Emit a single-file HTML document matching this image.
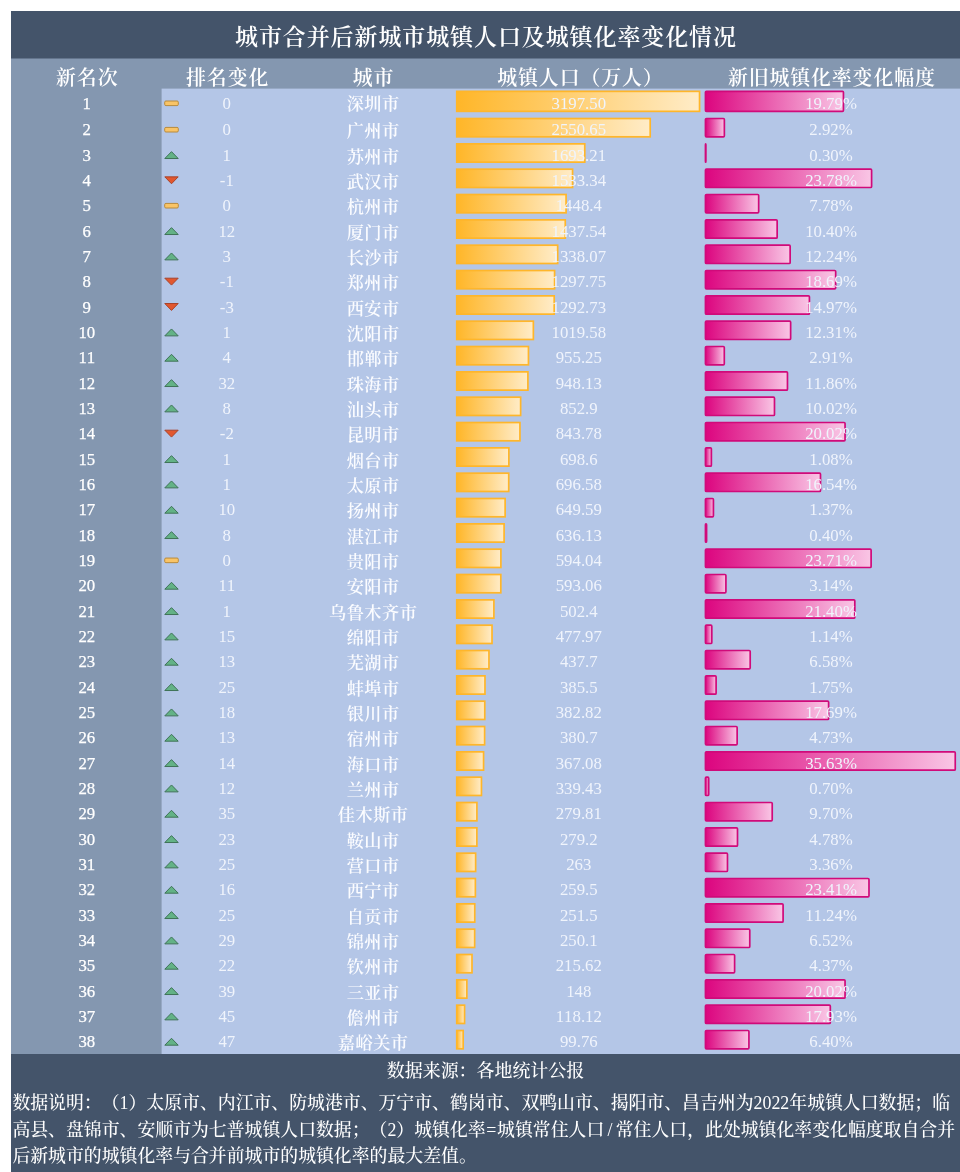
<!DOCTYPE html>
<html lang="zh-CN">
<head>
<meta charset="utf-8">
<title>城市合并后新城市城镇人口及城镇化率变化情况</title>
<style>
html,body{margin:0;padding:0;}
body{text-spacing-trim:space-all;font-kerning:none;width:960px;height:1172px;background:#fff;position:relative;overflow:hidden;font-family:"Liberation Serif","Noto Serif CJK SC",serif;color:#fff;}
.abs{position:absolute;}
.t{position:absolute;white-space:nowrap;text-align:center;line-height:20px;height:20px;}
.h{font-weight:600;font-size:19.9px;letter-spacing:0.9px;text-indent:0.9px;color:#fff;}
.n{font-size:16.8px;color:#f0f4fc;}
.r{color:#fff;-webkit-text-stroke:0.25px #fff;}
.c{font-size:17.2px;color:#fbfcff;font-weight:600;letter-spacing:0.5px;}
.w{display:inline-block;width:0.64em;text-align:center;}
</style>
</head>
<body>
<svg class="abs" style="left:0;top:0;" width="960" height="1172" viewBox="0 0 960 1172">
<defs><linearGradient id="go" x1="0" y1="0" x2="1" y2="0"><stop offset="0" stop-color="#ffb628"/><stop offset="1" stop-color="#ffecc8"/></linearGradient><linearGradient id="gm" x1="0" y1="0" x2="1" y2="0"><stop offset="0" stop-color="#dc057f"/><stop offset="1" stop-color="#f9c6e5"/></linearGradient></defs>
<rect x="11" y="11" width="949" height="1161" fill="#8497b0"/>
<rect x="11" y="11" width="949" height="47.5" fill="#44546a"/>
<rect x="161.6" y="88.6" width="798.4" height="965.4" fill="#b4c6e7"/>
<rect x="11" y="1054" width="949" height="118" fill="#44546a"/>
<rect x="456.75" y="91.35" width="242.8" height="20" fill="url(#go)" stroke="#ffb62a" stroke-width="1.7"/>
<rect x="705.45" y="91.35" width="137.99" height="20" rx="1" ry="1" fill="url(#gm)" stroke="#d00a7a" stroke-width="1.7"/>
<rect x="164.7" y="101" width="13.6" height="4.6" rx="1.2" ry="1.2" fill="#f9c467" stroke="#b88a3c" stroke-width="1"/>
<rect x="456.75" y="118.52" width="193.44" height="18.3" fill="url(#go)" stroke="#ffb62a" stroke-width="1.7"/>
<rect x="705.45" y="118.52" width="18.91" height="18.3" rx="1" ry="1" fill="url(#gm)" stroke="#d00a7a" stroke-width="1.7"/>
<rect x="164.7" y="127.4" width="13.6" height="4.6" rx="1.2" ry="1.2" fill="#f9c467" stroke="#b88a3c" stroke-width="1"/>
<rect x="456.75" y="143.85" width="128.01" height="18.3" fill="url(#go)" stroke="#ffb62a" stroke-width="1.7"/>
<rect x="705.45" y="143.85" width="0.42" height="18.3" rx="1" ry="1" fill="url(#gm)" stroke="#d00a7a" stroke-width="1.7"/>
<path transform="translate(164 150.23)" d="M7.5 1.4 L14.2 8.3 L0.8 8.3 Z" fill="#63b286" stroke="#3f7358" stroke-width="1" stroke-linejoin="round"/>
<rect x="456.75" y="169.19" width="115.81" height="18.3" fill="url(#go)" stroke="#ffb62a" stroke-width="1.7"/>
<rect x="705.45" y="169.19" width="166.15" height="18.3" rx="1" ry="1" fill="url(#gm)" stroke="#d00a7a" stroke-width="1.7"/>
<path transform="translate(164 176.17)" d="M0.8 0.7 L14.2 0.7 L7.5 7.6 Z" fill="#e2572f" stroke="#a8432a" stroke-width="1" stroke-linejoin="round"/>
<rect x="456.75" y="194.52" width="109.33" height="18.3" fill="url(#go)" stroke="#ffb62a" stroke-width="1.7"/>
<rect x="705.45" y="194.52" width="53.22" height="18.3" rx="1" ry="1" fill="url(#gm)" stroke="#d00a7a" stroke-width="1.7"/>
<rect x="164.7" y="203.4" width="13.6" height="4.6" rx="1.2" ry="1.2" fill="#f9c467" stroke="#b88a3c" stroke-width="1"/>
<rect x="456.75" y="219.85" width="108.5" height="18.3" fill="url(#go)" stroke="#ffb62a" stroke-width="1.7"/>
<rect x="705.45" y="219.85" width="71.71" height="18.3" rx="1" ry="1" fill="url(#gm)" stroke="#d00a7a" stroke-width="1.7"/>
<path transform="translate(164 226.23)" d="M7.5 1.4 L14.2 8.3 L0.8 8.3 Z" fill="#63b286" stroke="#3f7358" stroke-width="1" stroke-linejoin="round"/>
<rect x="456.75" y="245.19" width="100.91" height="18.3" fill="url(#go)" stroke="#ffb62a" stroke-width="1.7"/>
<rect x="705.45" y="245.19" width="84.7" height="18.3" rx="1" ry="1" fill="url(#gm)" stroke="#d00a7a" stroke-width="1.7"/>
<path transform="translate(164 251.57)" d="M7.5 1.4 L14.2 8.3 L0.8 8.3 Z" fill="#63b286" stroke="#3f7358" stroke-width="1" stroke-linejoin="round"/>
<rect x="456.75" y="270.52" width="97.83" height="18.3" fill="url(#go)" stroke="#ffb62a" stroke-width="1.7"/>
<rect x="705.45" y="270.52" width="130.23" height="18.3" rx="1" ry="1" fill="url(#gm)" stroke="#d00a7a" stroke-width="1.7"/>
<path transform="translate(164 277.5)" d="M0.8 0.7 L14.2 0.7 L7.5 7.6 Z" fill="#e2572f" stroke="#a8432a" stroke-width="1" stroke-linejoin="round"/>
<rect x="456.75" y="295.85" width="97.45" height="18.3" fill="url(#go)" stroke="#ffb62a" stroke-width="1.7"/>
<rect x="705.45" y="295.85" width="103.97" height="18.3" rx="1" ry="1" fill="url(#gm)" stroke="#d00a7a" stroke-width="1.7"/>
<path transform="translate(164 302.83)" d="M0.8 0.7 L14.2 0.7 L7.5 7.6 Z" fill="#e2572f" stroke="#a8432a" stroke-width="1" stroke-linejoin="round"/>
<rect x="456.75" y="321.18" width="76.6" height="18.3" fill="url(#go)" stroke="#ffb62a" stroke-width="1.7"/>
<rect x="705.45" y="321.18" width="85.19" height="18.3" rx="1" ry="1" fill="url(#gm)" stroke="#d00a7a" stroke-width="1.7"/>
<path transform="translate(164 327.56)" d="M7.5 1.4 L14.2 8.3 L0.8 8.3 Z" fill="#63b286" stroke="#3f7358" stroke-width="1" stroke-linejoin="round"/>
<rect x="456.75" y="346.52" width="71.69" height="18.3" fill="url(#go)" stroke="#ffb62a" stroke-width="1.7"/>
<rect x="705.45" y="346.52" width="18.84" height="18.3" rx="1" ry="1" fill="url(#gm)" stroke="#d00a7a" stroke-width="1.7"/>
<path transform="translate(164 352.9)" d="M7.5 1.4 L14.2 8.3 L0.8 8.3 Z" fill="#63b286" stroke="#3f7358" stroke-width="1" stroke-linejoin="round"/>
<rect x="456.75" y="371.85" width="71.15" height="18.3" fill="url(#go)" stroke="#ffb62a" stroke-width="1.7"/>
<rect x="705.45" y="371.85" width="82.02" height="18.3" rx="1" ry="1" fill="url(#gm)" stroke="#d00a7a" stroke-width="1.7"/>
<path transform="translate(164 378.23)" d="M7.5 1.4 L14.2 8.3 L0.8 8.3 Z" fill="#63b286" stroke="#3f7358" stroke-width="1" stroke-linejoin="round"/>
<rect x="456.75" y="397.18" width="63.88" height="18.3" fill="url(#go)" stroke="#ffb62a" stroke-width="1.7"/>
<rect x="705.45" y="397.18" width="69.03" height="18.3" rx="1" ry="1" fill="url(#gm)" stroke="#d00a7a" stroke-width="1.7"/>
<path transform="translate(164 403.56)" d="M7.5 1.4 L14.2 8.3 L0.8 8.3 Z" fill="#63b286" stroke="#3f7358" stroke-width="1" stroke-linejoin="round"/>
<rect x="456.75" y="422.52" width="63.19" height="18.3" fill="url(#go)" stroke="#ffb62a" stroke-width="1.7"/>
<rect x="705.45" y="422.52" width="139.61" height="18.3" rx="1" ry="1" fill="url(#gm)" stroke="#d00a7a" stroke-width="1.7"/>
<path transform="translate(164 429.5)" d="M0.8 0.7 L14.2 0.7 L7.5 7.6 Z" fill="#e2572f" stroke="#a8432a" stroke-width="1" stroke-linejoin="round"/>
<rect x="456.75" y="447.85" width="52.11" height="18.3" fill="url(#go)" stroke="#ffb62a" stroke-width="1.7"/>
<rect x="705.45" y="447.85" width="5.92" height="18.3" rx="1" ry="1" fill="url(#gm)" stroke="#d00a7a" stroke-width="1.7"/>
<path transform="translate(164 454.23)" d="M7.5 1.4 L14.2 8.3 L0.8 8.3 Z" fill="#63b286" stroke="#3f7358" stroke-width="1" stroke-linejoin="round"/>
<rect x="456.75" y="473.18" width="51.96" height="18.3" fill="url(#go)" stroke="#ffb62a" stroke-width="1.7"/>
<rect x="705.45" y="473.18" width="115.05" height="18.3" rx="1" ry="1" fill="url(#gm)" stroke="#d00a7a" stroke-width="1.7"/>
<path transform="translate(164 479.56)" d="M7.5 1.4 L14.2 8.3 L0.8 8.3 Z" fill="#63b286" stroke="#3f7358" stroke-width="1" stroke-linejoin="round"/>
<rect x="456.75" y="498.51" width="48.37" height="18.3" fill="url(#go)" stroke="#ffb62a" stroke-width="1.7"/>
<rect x="705.45" y="498.51" width="7.97" height="18.3" rx="1" ry="1" fill="url(#gm)" stroke="#d00a7a" stroke-width="1.7"/>
<path transform="translate(164 504.89)" d="M7.5 1.4 L14.2 8.3 L0.8 8.3 Z" fill="#63b286" stroke="#3f7358" stroke-width="1" stroke-linejoin="round"/>
<rect x="456.75" y="523.85" width="47.34" height="18.3" fill="url(#go)" stroke="#ffb62a" stroke-width="1.7"/>
<rect x="705.45" y="523.85" width="1.12" height="18.3" rx="1" ry="1" fill="url(#gm)" stroke="#d00a7a" stroke-width="1.7"/>
<path transform="translate(164 530.23)" d="M7.5 1.4 L14.2 8.3 L0.8 8.3 Z" fill="#63b286" stroke="#3f7358" stroke-width="1" stroke-linejoin="round"/>
<rect x="456.75" y="549.18" width="44.13" height="18.3" fill="url(#go)" stroke="#ffb62a" stroke-width="1.7"/>
<rect x="705.45" y="549.18" width="165.66" height="18.3" rx="1" ry="1" fill="url(#gm)" stroke="#d00a7a" stroke-width="1.7"/>
<rect x="164.7" y="558.06" width="13.6" height="4.6" rx="1.2" ry="1.2" fill="#f9c467" stroke="#b88a3c" stroke-width="1"/>
<rect x="456.75" y="574.51" width="44.06" height="18.3" fill="url(#go)" stroke="#ffb62a" stroke-width="1.7"/>
<rect x="705.45" y="574.51" width="20.46" height="18.3" rx="1" ry="1" fill="url(#gm)" stroke="#d00a7a" stroke-width="1.7"/>
<path transform="translate(164 580.89)" d="M7.5 1.4 L14.2 8.3 L0.8 8.3 Z" fill="#63b286" stroke="#3f7358" stroke-width="1" stroke-linejoin="round"/>
<rect x="456.75" y="599.85" width="37.14" height="18.3" fill="url(#go)" stroke="#ffb62a" stroke-width="1.7"/>
<rect x="705.45" y="599.85" width="149.36" height="18.3" rx="1" ry="1" fill="url(#gm)" stroke="#d00a7a" stroke-width="1.7"/>
<path transform="translate(164 606.23)" d="M7.5 1.4 L14.2 8.3 L0.8 8.3 Z" fill="#63b286" stroke="#3f7358" stroke-width="1" stroke-linejoin="round"/>
<rect x="456.75" y="625.18" width="35.27" height="18.3" fill="url(#go)" stroke="#ffb62a" stroke-width="1.7"/>
<rect x="705.45" y="625.18" width="6.35" height="18.3" rx="1" ry="1" fill="url(#gm)" stroke="#d00a7a" stroke-width="1.7"/>
<path transform="translate(164 631.56)" d="M7.5 1.4 L14.2 8.3 L0.8 8.3 Z" fill="#63b286" stroke="#3f7358" stroke-width="1" stroke-linejoin="round"/>
<rect x="456.75" y="650.51" width="32.2" height="18.3" fill="url(#go)" stroke="#ffb62a" stroke-width="1.7"/>
<rect x="705.45" y="650.51" width="44.75" height="18.3" rx="1" ry="1" fill="url(#gm)" stroke="#d00a7a" stroke-width="1.7"/>
<path transform="translate(164 656.89)" d="M7.5 1.4 L14.2 8.3 L0.8 8.3 Z" fill="#63b286" stroke="#3f7358" stroke-width="1" stroke-linejoin="round"/>
<rect x="456.75" y="675.85" width="28.22" height="18.3" fill="url(#go)" stroke="#ffb62a" stroke-width="1.7"/>
<rect x="705.45" y="675.85" width="10.65" height="18.3" rx="1" ry="1" fill="url(#gm)" stroke="#d00a7a" stroke-width="1.7"/>
<path transform="translate(164 682.23)" d="M7.5 1.4 L14.2 8.3 L0.8 8.3 Z" fill="#63b286" stroke="#3f7358" stroke-width="1" stroke-linejoin="round"/>
<rect x="456.75" y="701.18" width="28.01" height="18.3" fill="url(#go)" stroke="#ffb62a" stroke-width="1.7"/>
<rect x="705.45" y="701.18" width="123.17" height="18.3" rx="1" ry="1" fill="url(#gm)" stroke="#d00a7a" stroke-width="1.7"/>
<path transform="translate(164 707.56)" d="M7.5 1.4 L14.2 8.3 L0.8 8.3 Z" fill="#63b286" stroke="#3f7358" stroke-width="1" stroke-linejoin="round"/>
<rect x="456.75" y="726.51" width="27.85" height="18.3" fill="url(#go)" stroke="#ffb62a" stroke-width="1.7"/>
<rect x="705.45" y="726.51" width="31.69" height="18.3" rx="1" ry="1" fill="url(#gm)" stroke="#d00a7a" stroke-width="1.7"/>
<path transform="translate(164 732.89)" d="M7.5 1.4 L14.2 8.3 L0.8 8.3 Z" fill="#63b286" stroke="#3f7358" stroke-width="1" stroke-linejoin="round"/>
<rect x="456.75" y="751.84" width="26.81" height="18.3" fill="url(#go)" stroke="#ffb62a" stroke-width="1.7"/>
<rect x="705.45" y="751.84" width="249.8" height="18.3" rx="1" ry="1" fill="url(#gm)" stroke="#d00a7a" stroke-width="1.7"/>
<path transform="translate(164 758.22)" d="M7.5 1.4 L14.2 8.3 L0.8 8.3 Z" fill="#63b286" stroke="#3f7358" stroke-width="1" stroke-linejoin="round"/>
<rect x="456.75" y="777.18" width="24.7" height="18.3" fill="url(#go)" stroke="#ffb62a" stroke-width="1.7"/>
<rect x="705.45" y="777.18" width="3.24" height="18.3" rx="1" ry="1" fill="url(#gm)" stroke="#d00a7a" stroke-width="1.7"/>
<path transform="translate(164 783.56)" d="M7.5 1.4 L14.2 8.3 L0.8 8.3 Z" fill="#63b286" stroke="#3f7358" stroke-width="1" stroke-linejoin="round"/>
<rect x="456.75" y="802.51" width="20.15" height="18.3" fill="url(#go)" stroke="#ffb62a" stroke-width="1.7"/>
<rect x="705.45" y="802.51" width="66.77" height="18.3" rx="1" ry="1" fill="url(#gm)" stroke="#d00a7a" stroke-width="1.7"/>
<path transform="translate(164 808.89)" d="M7.5 1.4 L14.2 8.3 L0.8 8.3 Z" fill="#63b286" stroke="#3f7358" stroke-width="1" stroke-linejoin="round"/>
<rect x="456.75" y="827.84" width="20.11" height="18.3" fill="url(#go)" stroke="#ffb62a" stroke-width="1.7"/>
<rect x="705.45" y="827.84" width="32.04" height="18.3" rx="1" ry="1" fill="url(#gm)" stroke="#d00a7a" stroke-width="1.7"/>
<path transform="translate(164 834.22)" d="M7.5 1.4 L14.2 8.3 L0.8 8.3 Z" fill="#63b286" stroke="#3f7358" stroke-width="1" stroke-linejoin="round"/>
<rect x="456.75" y="853.18" width="18.87" height="18.3" fill="url(#go)" stroke="#ffb62a" stroke-width="1.7"/>
<rect x="705.45" y="853.18" width="22.02" height="18.3" rx="1" ry="1" fill="url(#gm)" stroke="#d00a7a" stroke-width="1.7"/>
<path transform="translate(164 859.56)" d="M7.5 1.4 L14.2 8.3 L0.8 8.3 Z" fill="#63b286" stroke="#3f7358" stroke-width="1" stroke-linejoin="round"/>
<rect x="456.75" y="878.51" width="18.6" height="18.3" fill="url(#go)" stroke="#ffb62a" stroke-width="1.7"/>
<rect x="705.45" y="878.51" width="163.54" height="18.3" rx="1" ry="1" fill="url(#gm)" stroke="#d00a7a" stroke-width="1.7"/>
<path transform="translate(164 884.89)" d="M7.5 1.4 L14.2 8.3 L0.8 8.3 Z" fill="#63b286" stroke="#3f7358" stroke-width="1" stroke-linejoin="round"/>
<rect x="456.75" y="903.84" width="17.99" height="18.3" fill="url(#go)" stroke="#ffb62a" stroke-width="1.7"/>
<rect x="705.45" y="903.84" width="77.64" height="18.3" rx="1" ry="1" fill="url(#gm)" stroke="#d00a7a" stroke-width="1.7"/>
<path transform="translate(164 910.22)" d="M7.5 1.4 L14.2 8.3 L0.8 8.3 Z" fill="#63b286" stroke="#3f7358" stroke-width="1" stroke-linejoin="round"/>
<rect x="456.75" y="929.18" width="17.89" height="18.3" fill="url(#go)" stroke="#ffb62a" stroke-width="1.7"/>
<rect x="705.45" y="929.18" width="44.32" height="18.3" rx="1" ry="1" fill="url(#gm)" stroke="#d00a7a" stroke-width="1.7"/>
<path transform="translate(164 935.56)" d="M7.5 1.4 L14.2 8.3 L0.8 8.3 Z" fill="#63b286" stroke="#3f7358" stroke-width="1" stroke-linejoin="round"/>
<rect x="456.75" y="954.51" width="15.25" height="18.3" fill="url(#go)" stroke="#ffb62a" stroke-width="1.7"/>
<rect x="705.45" y="954.51" width="29.15" height="18.3" rx="1" ry="1" fill="url(#gm)" stroke="#d00a7a" stroke-width="1.7"/>
<path transform="translate(164 960.89)" d="M7.5 1.4 L14.2 8.3 L0.8 8.3 Z" fill="#63b286" stroke="#3f7358" stroke-width="1" stroke-linejoin="round"/>
<rect x="456.75" y="979.84" width="10.09" height="18.3" fill="url(#go)" stroke="#ffb62a" stroke-width="1.7"/>
<rect x="705.45" y="979.84" width="139.61" height="18.3" rx="1" ry="1" fill="url(#gm)" stroke="#d00a7a" stroke-width="1.7"/>
<path transform="translate(164 986.22)" d="M7.5 1.4 L14.2 8.3 L0.8 8.3 Z" fill="#63b286" stroke="#3f7358" stroke-width="1" stroke-linejoin="round"/>
<rect x="456.75" y="1005.17" width="7.81" height="18.3" fill="url(#go)" stroke="#ffb62a" stroke-width="1.7"/>
<rect x="705.45" y="1005.17" width="124.86" height="18.3" rx="1" ry="1" fill="url(#gm)" stroke="#d00a7a" stroke-width="1.7"/>
<path transform="translate(164 1011.55)" d="M7.5 1.4 L14.2 8.3 L0.8 8.3 Z" fill="#63b286" stroke="#3f7358" stroke-width="1" stroke-linejoin="round"/>
<rect x="456.75" y="1030.51" width="6.41" height="18.3" fill="url(#go)" stroke="#ffb62a" stroke-width="1.7"/>
<rect x="705.45" y="1030.51" width="43.48" height="18.3" rx="1" ry="1" fill="url(#gm)" stroke="#d00a7a" stroke-width="1.7"/>
<path transform="translate(164 1036.89)" d="M7.5 1.4 L14.2 8.3 L0.8 8.3 Z" fill="#63b286" stroke="#3f7358" stroke-width="1" stroke-linejoin="round"/>
</svg>
<div class="t" style="left:11px;width:949px;top:23.3px;font-weight:600;font-size:23.0px;letter-spacing:0.9px;text-indent:0.9px;line-height:30px;height:30px;">城市合并后新城市城镇人口及城镇化率变化情况</div>
<div class="t h" style="left:-63.2px;width:300px;top:67.6px;">新名次</div>
<div class="t h" style="left:77.2px;width:300px;top:67.6px;">排名变化</div>
<div class="t h" style="left:223.0px;width:300px;top:67.6px;">城市</div>
<div class="t h" style="left:430.0px;width:300px;top:67.6px;">城镇人口（万人）</div>
<div class="t h" style="left:681.4px;width:300px;top:67.6px;">新旧城镇化率变化幅度</div>
<!-- row 1 -->
<div class="t n r" style="left:-13.2px;width:200px;top:93.9px;">1</div>
<div class="t n" style="left:126.8px;width:200px;top:93.9px;">0</div>
<div class="t c" style="left:273.2px;width:200px;top:95.3px;">深圳市</div>
<div class="t n" style="left:478.8px;width:200px;top:93.9px;">3197.50</div>
<div class="t n" style="left:731px;width:200px;top:93.9px;">19.79%</div>
<!-- row 2 -->
<div class="t n r" style="left:-13.2px;width:200px;top:120.3px;">2</div>
<div class="t n" style="left:126.8px;width:200px;top:120.3px;">0</div>
<div class="t c" style="left:273.2px;width:200px;top:122.3px;">广州市</div>
<div class="t n" style="left:478.8px;width:200px;top:120.3px;">2550.65</div>
<div class="t n" style="left:731px;width:200px;top:120.3px;">2.92%</div>
<!-- row 3 -->
<div class="t n r" style="left:-13.2px;width:200px;top:145.63px;">3</div>
<div class="t n" style="left:126.8px;width:200px;top:145.63px;">1</div>
<div class="t c" style="left:273.2px;width:200px;top:147.63px;">苏州市</div>
<div class="t n" style="left:478.8px;width:200px;top:145.63px;">1693.21</div>
<div class="t n" style="left:731px;width:200px;top:145.63px;">0.30%</div>
<!-- row 4 -->
<div class="t n r" style="left:-13.2px;width:200px;top:170.97px;">4</div>
<div class="t n" style="left:126.8px;width:200px;top:170.97px;">-1</div>
<div class="t c" style="left:273.2px;width:200px;top:172.97px;">武汉市</div>
<div class="t n" style="left:478.8px;width:200px;top:170.97px;">1533.34</div>
<div class="t n" style="left:731px;width:200px;top:170.97px;">23.78%</div>
<!-- row 5 -->
<div class="t n r" style="left:-13.2px;width:200px;top:196.3px;">5</div>
<div class="t n" style="left:126.8px;width:200px;top:196.3px;">0</div>
<div class="t c" style="left:273.2px;width:200px;top:198.3px;">杭州市</div>
<div class="t n" style="left:478.8px;width:200px;top:196.3px;">1448.4</div>
<div class="t n" style="left:731px;width:200px;top:196.3px;">7.78%</div>
<!-- row 6 -->
<div class="t n r" style="left:-13.2px;width:200px;top:221.63px;">6</div>
<div class="t n" style="left:126.8px;width:200px;top:221.63px;">12</div>
<div class="t c" style="left:273.2px;width:200px;top:223.63px;">厦门市</div>
<div class="t n" style="left:478.8px;width:200px;top:221.63px;">1437.54</div>
<div class="t n" style="left:731px;width:200px;top:221.63px;">10.40%</div>
<!-- row 7 -->
<div class="t n r" style="left:-13.2px;width:200px;top:246.97px;">7</div>
<div class="t n" style="left:126.8px;width:200px;top:246.97px;">3</div>
<div class="t c" style="left:273.2px;width:200px;top:248.97px;">长沙市</div>
<div class="t n" style="left:478.8px;width:200px;top:246.97px;">1338.07</div>
<div class="t n" style="left:731px;width:200px;top:246.97px;">12.24%</div>
<!-- row 8 -->
<div class="t n r" style="left:-13.2px;width:200px;top:272.3px;">8</div>
<div class="t n" style="left:126.8px;width:200px;top:272.3px;">-1</div>
<div class="t c" style="left:273.2px;width:200px;top:274.3px;">郑州市</div>
<div class="t n" style="left:478.8px;width:200px;top:272.3px;">1297.75</div>
<div class="t n" style="left:731px;width:200px;top:272.3px;">18.69%</div>
<!-- row 9 -->
<div class="t n r" style="left:-13.2px;width:200px;top:297.63px;">9</div>
<div class="t n" style="left:126.8px;width:200px;top:297.63px;">-3</div>
<div class="t c" style="left:273.2px;width:200px;top:299.63px;">西安市</div>
<div class="t n" style="left:478.8px;width:200px;top:297.63px;">1292.73</div>
<div class="t n" style="left:731px;width:200px;top:297.63px;">14.97%</div>
<!-- row 10 -->
<div class="t n r" style="left:-13.2px;width:200px;top:322.96px;">10</div>
<div class="t n" style="left:126.8px;width:200px;top:322.96px;">1</div>
<div class="t c" style="left:273.2px;width:200px;top:324.96px;">沈阳市</div>
<div class="t n" style="left:478.8px;width:200px;top:322.96px;">1019.58</div>
<div class="t n" style="left:731px;width:200px;top:322.96px;">12.31%</div>
<!-- row 11 -->
<div class="t n r" style="left:-13.2px;width:200px;top:348.3px;">11</div>
<div class="t n" style="left:126.8px;width:200px;top:348.3px;">4</div>
<div class="t c" style="left:273.2px;width:200px;top:350.3px;">邯郸市</div>
<div class="t n" style="left:478.8px;width:200px;top:348.3px;">955.25</div>
<div class="t n" style="left:731px;width:200px;top:348.3px;">2.91%</div>
<!-- row 12 -->
<div class="t n r" style="left:-13.2px;width:200px;top:373.63px;">12</div>
<div class="t n" style="left:126.8px;width:200px;top:373.63px;">32</div>
<div class="t c" style="left:273.2px;width:200px;top:375.63px;">珠海市</div>
<div class="t n" style="left:478.8px;width:200px;top:373.63px;">948.13</div>
<div class="t n" style="left:731px;width:200px;top:373.63px;">11.86%</div>
<!-- row 13 -->
<div class="t n r" style="left:-13.2px;width:200px;top:398.96px;">13</div>
<div class="t n" style="left:126.8px;width:200px;top:398.96px;">8</div>
<div class="t c" style="left:273.2px;width:200px;top:400.96px;">汕头市</div>
<div class="t n" style="left:478.8px;width:200px;top:398.96px;">852.9</div>
<div class="t n" style="left:731px;width:200px;top:398.96px;">10.02%</div>
<!-- row 14 -->
<div class="t n r" style="left:-13.2px;width:200px;top:424.3px;">14</div>
<div class="t n" style="left:126.8px;width:200px;top:424.3px;">-2</div>
<div class="t c" style="left:273.2px;width:200px;top:426.3px;">昆明市</div>
<div class="t n" style="left:478.8px;width:200px;top:424.3px;">843.78</div>
<div class="t n" style="left:731px;width:200px;top:424.3px;">20.02%</div>
<!-- row 15 -->
<div class="t n r" style="left:-13.2px;width:200px;top:449.63px;">15</div>
<div class="t n" style="left:126.8px;width:200px;top:449.63px;">1</div>
<div class="t c" style="left:273.2px;width:200px;top:451.63px;">烟台市</div>
<div class="t n" style="left:478.8px;width:200px;top:449.63px;">698.6</div>
<div class="t n" style="left:731px;width:200px;top:449.63px;">1.08%</div>
<!-- row 16 -->
<div class="t n r" style="left:-13.2px;width:200px;top:474.96px;">16</div>
<div class="t n" style="left:126.8px;width:200px;top:474.96px;">1</div>
<div class="t c" style="left:273.2px;width:200px;top:476.96px;">太原市</div>
<div class="t n" style="left:478.8px;width:200px;top:474.96px;">696.58</div>
<div class="t n" style="left:731px;width:200px;top:474.96px;">16.54%</div>
<!-- row 17 -->
<div class="t n r" style="left:-13.2px;width:200px;top:500.29px;">17</div>
<div class="t n" style="left:126.8px;width:200px;top:500.29px;">10</div>
<div class="t c" style="left:273.2px;width:200px;top:502.29px;">扬州市</div>
<div class="t n" style="left:478.8px;width:200px;top:500.29px;">649.59</div>
<div class="t n" style="left:731px;width:200px;top:500.29px;">1.37%</div>
<!-- row 18 -->
<div class="t n r" style="left:-13.2px;width:200px;top:525.63px;">18</div>
<div class="t n" style="left:126.8px;width:200px;top:525.63px;">8</div>
<div class="t c" style="left:273.2px;width:200px;top:527.63px;">湛江市</div>
<div class="t n" style="left:478.8px;width:200px;top:525.63px;">636.13</div>
<div class="t n" style="left:731px;width:200px;top:525.63px;">0.40%</div>
<!-- row 19 -->
<div class="t n r" style="left:-13.2px;width:200px;top:550.96px;">19</div>
<div class="t n" style="left:126.8px;width:200px;top:550.96px;">0</div>
<div class="t c" style="left:273.2px;width:200px;top:552.96px;">贵阳市</div>
<div class="t n" style="left:478.8px;width:200px;top:550.96px;">594.04</div>
<div class="t n" style="left:731px;width:200px;top:550.96px;">23.71%</div>
<!-- row 20 -->
<div class="t n r" style="left:-13.2px;width:200px;top:576.29px;">20</div>
<div class="t n" style="left:126.8px;width:200px;top:576.29px;">11</div>
<div class="t c" style="left:273.2px;width:200px;top:578.29px;">安阳市</div>
<div class="t n" style="left:478.8px;width:200px;top:576.29px;">593.06</div>
<div class="t n" style="left:731px;width:200px;top:576.29px;">3.14%</div>
<!-- row 21 -->
<div class="t n r" style="left:-13.2px;width:200px;top:601.63px;">21</div>
<div class="t n" style="left:126.8px;width:200px;top:601.63px;">1</div>
<div class="t c" style="left:273.2px;width:200px;top:603.63px;">乌鲁木齐市</div>
<div class="t n" style="left:478.8px;width:200px;top:601.63px;">502.4</div>
<div class="t n" style="left:731px;width:200px;top:601.63px;">21.40%</div>
<!-- row 22 -->
<div class="t n r" style="left:-13.2px;width:200px;top:626.96px;">22</div>
<div class="t n" style="left:126.8px;width:200px;top:626.96px;">15</div>
<div class="t c" style="left:273.2px;width:200px;top:628.96px;">绵阳市</div>
<div class="t n" style="left:478.8px;width:200px;top:626.96px;">477.97</div>
<div class="t n" style="left:731px;width:200px;top:626.96px;">1.14%</div>
<!-- row 23 -->
<div class="t n r" style="left:-13.2px;width:200px;top:652.29px;">23</div>
<div class="t n" style="left:126.8px;width:200px;top:652.29px;">13</div>
<div class="t c" style="left:273.2px;width:200px;top:654.29px;">芜湖市</div>
<div class="t n" style="left:478.8px;width:200px;top:652.29px;">437.7</div>
<div class="t n" style="left:731px;width:200px;top:652.29px;">6.58%</div>
<!-- row 24 -->
<div class="t n r" style="left:-13.2px;width:200px;top:677.63px;">24</div>
<div class="t n" style="left:126.8px;width:200px;top:677.63px;">25</div>
<div class="t c" style="left:273.2px;width:200px;top:679.63px;">蚌埠市</div>
<div class="t n" style="left:478.8px;width:200px;top:677.63px;">385.5</div>
<div class="t n" style="left:731px;width:200px;top:677.63px;">1.75%</div>
<!-- row 25 -->
<div class="t n r" style="left:-13.2px;width:200px;top:702.96px;">25</div>
<div class="t n" style="left:126.8px;width:200px;top:702.96px;">18</div>
<div class="t c" style="left:273.2px;width:200px;top:704.96px;">银川市</div>
<div class="t n" style="left:478.8px;width:200px;top:702.96px;">382.82</div>
<div class="t n" style="left:731px;width:200px;top:702.96px;">17.69%</div>
<!-- row 26 -->
<div class="t n r" style="left:-13.2px;width:200px;top:728.29px;">26</div>
<div class="t n" style="left:126.8px;width:200px;top:728.29px;">13</div>
<div class="t c" style="left:273.2px;width:200px;top:730.29px;">宿州市</div>
<div class="t n" style="left:478.8px;width:200px;top:728.29px;">380.7</div>
<div class="t n" style="left:731px;width:200px;top:728.29px;">4.73%</div>
<!-- row 27 -->
<div class="t n r" style="left:-13.2px;width:200px;top:753.62px;">27</div>
<div class="t n" style="left:126.8px;width:200px;top:753.62px;">14</div>
<div class="t c" style="left:273.2px;width:200px;top:755.62px;">海口市</div>
<div class="t n" style="left:478.8px;width:200px;top:753.62px;">367.08</div>
<div class="t n" style="left:731px;width:200px;top:753.62px;">35.63%</div>
<!-- row 28 -->
<div class="t n r" style="left:-13.2px;width:200px;top:778.96px;">28</div>
<div class="t n" style="left:126.8px;width:200px;top:778.96px;">12</div>
<div class="t c" style="left:273.2px;width:200px;top:780.96px;">兰州市</div>
<div class="t n" style="left:478.8px;width:200px;top:778.96px;">339.43</div>
<div class="t n" style="left:731px;width:200px;top:778.96px;">0.70%</div>
<!-- row 29 -->
<div class="t n r" style="left:-13.2px;width:200px;top:804.29px;">29</div>
<div class="t n" style="left:126.8px;width:200px;top:804.29px;">35</div>
<div class="t c" style="left:273.2px;width:200px;top:806.29px;">佳木斯市</div>
<div class="t n" style="left:478.8px;width:200px;top:804.29px;">279.81</div>
<div class="t n" style="left:731px;width:200px;top:804.29px;">9.70%</div>
<!-- row 30 -->
<div class="t n r" style="left:-13.2px;width:200px;top:829.62px;">30</div>
<div class="t n" style="left:126.8px;width:200px;top:829.62px;">23</div>
<div class="t c" style="left:273.2px;width:200px;top:831.62px;">鞍山市</div>
<div class="t n" style="left:478.8px;width:200px;top:829.62px;">279.2</div>
<div class="t n" style="left:731px;width:200px;top:829.62px;">4.78%</div>
<!-- row 31 -->
<div class="t n r" style="left:-13.2px;width:200px;top:854.96px;">31</div>
<div class="t n" style="left:126.8px;width:200px;top:854.96px;">25</div>
<div class="t c" style="left:273.2px;width:200px;top:856.96px;">营口市</div>
<div class="t n" style="left:478.8px;width:200px;top:854.96px;">263</div>
<div class="t n" style="left:731px;width:200px;top:854.96px;">3.36%</div>
<!-- row 32 -->
<div class="t n r" style="left:-13.2px;width:200px;top:880.29px;">32</div>
<div class="t n" style="left:126.8px;width:200px;top:880.29px;">16</div>
<div class="t c" style="left:273.2px;width:200px;top:882.29px;">西宁市</div>
<div class="t n" style="left:478.8px;width:200px;top:880.29px;">259.5</div>
<div class="t n" style="left:731px;width:200px;top:880.29px;">23.41%</div>
<!-- row 33 -->
<div class="t n r" style="left:-13.2px;width:200px;top:905.62px;">33</div>
<div class="t n" style="left:126.8px;width:200px;top:905.62px;">25</div>
<div class="t c" style="left:273.2px;width:200px;top:907.62px;">自贡市</div>
<div class="t n" style="left:478.8px;width:200px;top:905.62px;">251.5</div>
<div class="t n" style="left:731px;width:200px;top:905.62px;">11.24%</div>
<!-- row 34 -->
<div class="t n r" style="left:-13.2px;width:200px;top:930.96px;">34</div>
<div class="t n" style="left:126.8px;width:200px;top:930.96px;">29</div>
<div class="t c" style="left:273.2px;width:200px;top:932.96px;">锦州市</div>
<div class="t n" style="left:478.8px;width:200px;top:930.96px;">250.1</div>
<div class="t n" style="left:731px;width:200px;top:930.96px;">6.52%</div>
<!-- row 35 -->
<div class="t n r" style="left:-13.2px;width:200px;top:956.29px;">35</div>
<div class="t n" style="left:126.8px;width:200px;top:956.29px;">22</div>
<div class="t c" style="left:273.2px;width:200px;top:958.29px;">钦州市</div>
<div class="t n" style="left:478.8px;width:200px;top:956.29px;">215.62</div>
<div class="t n" style="left:731px;width:200px;top:956.29px;">4.37%</div>
<!-- row 36 -->
<div class="t n r" style="left:-13.2px;width:200px;top:981.62px;">36</div>
<div class="t n" style="left:126.8px;width:200px;top:981.62px;">39</div>
<div class="t c" style="left:273.2px;width:200px;top:983.62px;">三亚市</div>
<div class="t n" style="left:478.8px;width:200px;top:981.62px;">148</div>
<div class="t n" style="left:731px;width:200px;top:981.62px;">20.02%</div>
<!-- row 37 -->
<div class="t n r" style="left:-13.2px;width:200px;top:1006.95px;">37</div>
<div class="t n" style="left:126.8px;width:200px;top:1006.95px;">45</div>
<div class="t c" style="left:273.2px;width:200px;top:1008.95px;">儋州市</div>
<div class="t n" style="left:478.8px;width:200px;top:1006.95px;">118.12</div>
<div class="t n" style="left:731px;width:200px;top:1006.95px;">17.93%</div>
<!-- row 38 -->
<div class="t n r" style="left:-13.2px;width:200px;top:1032.29px;">38</div>
<div class="t n" style="left:126.8px;width:200px;top:1032.29px;">47</div>
<div class="t c" style="left:273.2px;width:200px;top:1034.29px;">嘉峪关市</div>
<div class="t n" style="left:478.8px;width:200px;top:1032.29px;">99.76</div>
<div class="t n" style="left:731px;width:200px;top:1032.29px;">6.40%</div>
<div class="t" style="left:11px;width:949px;top:1059.3px;font-size:17.95px;font-weight:500;line-height:24px;height:24px;">数据来源：各地统计公报</div>
<div class="abs" style="left:12.4px;top:1090px;white-space:nowrap;font-size:17.88px;font-weight:500;line-height:26.6px;text-align:left;">数据说明：（1）太原市、内江市、防城港市、万宁市、鹤岗市、双鸭山市、揭阳市、昌吉州为2022年城镇人口数据；临<br>高县、盘锦市、安顺市为七普城镇人口数据；（2）城镇化率<span class="w">=</span>城镇常住人口<span class="w">/</span>常住人口，此处城镇化率变化幅度取自合并<br>后新城市的城镇化率与合并前城市的城镇化率的最大差值。</div>
</body>
</html>
